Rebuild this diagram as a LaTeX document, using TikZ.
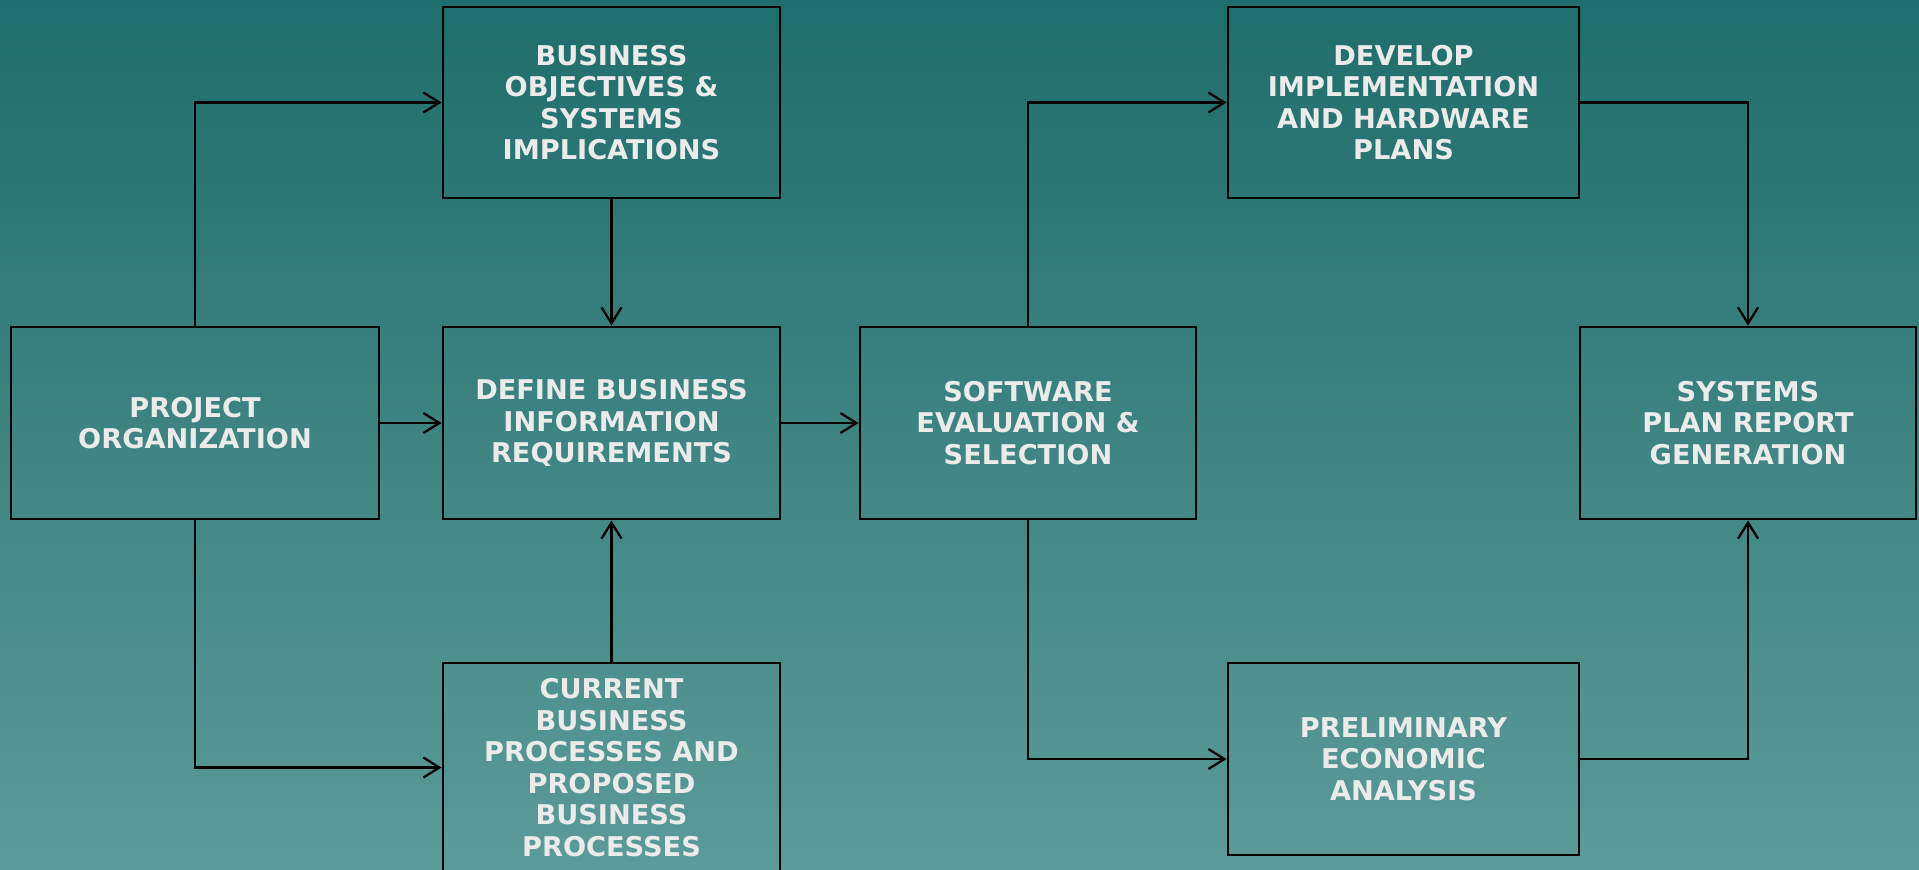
\documentclass[tikz,border=0pt]{standalone}
\usepackage{fontspec}
\setmainfont{DejaVu Sans}
\usetikzlibrary{arrows.meta}
\definecolor{bgtop}{HTML}{1F6D6C}
\definecolor{bgbot}{HTML}{5B9B99}
\definecolor{txt}{HTML}{EBEBEB}
\tikzset{
  box/.style={draw=black, line width=2.2pt, align=center, text=txt,
    font=\bfseries\fontsize{20.4pt}{23.6pt}\selectfont, inner sep=4pt},
  conn/.style={draw=black, line width=1.7pt,
    -{Straight Barb[length=12pt,width=15pt,line width=1.7pt]}}
}
\begin{document}
\begin{tikzpicture}[x=0.75pt,y=-0.75pt]
\useasboundingbox (0,0) rectangle (1919,869);
\shade[top color=bgtop, bottom color=bgbot] (0,0) rectangle (1919,869);
\begin{scope}
\clip (0,0) rectangle (1919,869);
\node[box, minimum width=276pt, minimum height=144pt] (proj) at (195,423) {PROJECT\\ORGANIZATION};
\node[box, minimum width=252.75pt, minimum height=143.25pt] (bus) at (611.5,102.5) {BUSINESS\\OBJECTIVES \&\\SYSTEMS\\IMPLICATIONS};
\node[box, minimum width=252.75pt, minimum height=144pt] (def) at (611.5,423) {DEFINE BUSINESS\\INFORMATION\\REQUIREMENTS};
\node[box, minimum width=252.75pt, minimum height=156.75pt] (cur) at (611.5,767.5) {CURRENT\\BUSINESS\\PROCESSES AND\\PROPOSED\\BUSINESS\\PROCESSES};
\node[box, minimum width=252pt, minimum height=144pt] (soft) at (1028,423) {SOFTWARE\\EVALUATION \&\\SELECTION};
\node[box, minimum width=263.25pt, minimum height=143.25pt] (dev) at (1403.5,102.5) {DEVELOP\\IMPLEMENTATION\\AND HARDWARE\\PLANS};
\node[box, minimum width=252pt, minimum height=144pt] (sys) at (1748,423) {SYSTEMS\\PLAN REPORT\\GENERATION};
\node[box, minimum width=263.25pt, minimum height=144pt] (pre) at (1403.5,759) {PRELIMINARY\\ECONOMIC\\ANALYSIS};
\end{scope}
\draw[conn] (proj.north) |- (bus.west);
\draw[conn] (proj.east) -- (def.west);
\draw[conn] (proj.south) |- (cur.west);
\draw[conn] (bus.south) -- (def.north);
\draw[conn] (cur.north) -- (def.south);
\draw[conn] (def.east) -- (soft.west);
\draw[conn] (soft.north) |- (dev.west);
\draw[conn] (soft.south) |- (pre.west);
\draw[conn] (dev.east) -| (sys.north);
\draw[conn] (pre.east) -| (sys.south);
\end{tikzpicture}
\end{document}
